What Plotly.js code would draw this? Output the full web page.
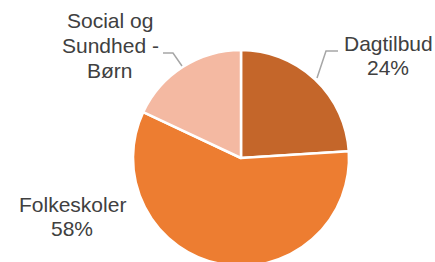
<!DOCTYPE html>
<html>
<head>
<meta charset="utf-8">
<script src="https://cdn.plot.ly/plotly-3.0.1.min.js"></script>
<style>
html,body{margin:0;padding:0;overflow:hidden;background:#fff;}
#chart{width:435px;height:280px;}
</style>
</head>
<body>
<div id="chart"></div>
<script>
const categories = ["Dagtilbud", "Folkeskoler", "Social og Sundhed - Børn"];
const values = [24, 58, 18];
const colors = ["#C4662A", "#ED7D31", "#F4B9A2"];
const labelLines = [["Dagtilbud"], ["Folkeskoler"], ["Social og", "Sundhed -", "Børn"]];

const W = 435, H = 280;
const px = x => x / W;
const py = y => 1 - y / H;

const total = values.reduce((a, b) => a + b, 0);
const pct = values.map(v => Math.round(v / total * 100) + "%");

const cx = 241, cy = 158, r = 108;

const trace = {
  type: "pie",
  labels: categories,
  values: values,
  sort: false,
  direction: "clockwise",
  rotation: 0,
  textinfo: "none",
  hoverinfo: "label+percent",
  marker: {colors: colors, line: {color: "#ffffff", width: 2.5}},
  domain: {x: [px(cx - r), px(cx + r)], y: [py(cy + r), py(cy - r)]},
  showlegend: false
};

const font = {family: "Liberation Sans, Arial, sans-serif", size: 21, color: "#404040"};

// label blocks: lines of text, center x, first line center y, line spacing
const blocks = [
  {lines: labelLines[0].concat([pct[0]]), x: 388, y: 43, dy: 24},
  {lines: labelLines[1].concat([pct[1]]), x: 72, y: 204, dy: 24},
  {lines: labelLines[2], x: 110, y: 21, dy: 24.5}
];
const annotations = [];
blocks.forEach(b => b.lines.forEach((t, i) => annotations.push({
  text: t, x: px(b.x), y: py(b.y + i * b.dy), xanchor: "center", yanchor: "middle",
  xref: "paper", yref: "paper", showarrow: false, font: font, align: "center"
})));

const lineStyle = {color: "#A6A6A6", width: 1.5};
const shapes = [
  {type: "path", path: `M ${px(338)} ${py(51)} L ${px(326)} ${py(51)} L ${px(317)} ${py(78)}`},
  {type: "path", path: `M ${px(163)} ${py(53)} L ${px(173)} ${py(53)} L ${px(182)} ${py(66)}`}
].map(s => Object.assign({xref: "paper", yref: "paper", line: lineStyle}, s));

const layout = {
  width: W, height: H,
  margin: {l: 0, r: 0, t: 0, b: 0},
  paper_bgcolor: "#ffffff",
  annotations: annotations,
  shapes: shapes
};

Plotly.newPlot("chart", [trace], layout, {displayModeBar: false, staticPlot: true});
</script>
</body>
</html>
